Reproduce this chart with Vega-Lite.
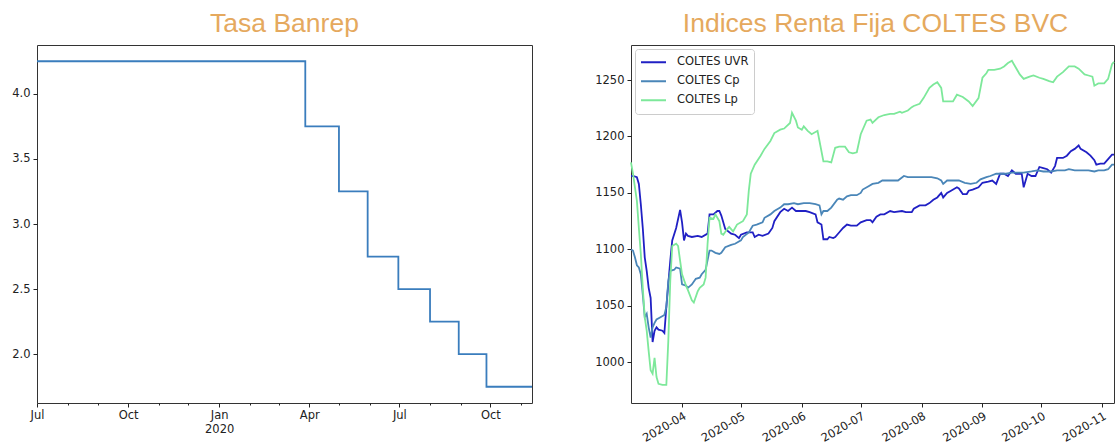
{
  "$schema": "https://vega.github.io/schema/vega-lite/v6.json",
  "padding": {"left": 0, "top": 10, "right": 0, "bottom": 0},
  "spacing": 53,
  "resolve": {"legend": {"color": "independent"}},
  "config": {
    "view": {"stroke": "#333333", "strokeWidth": 1},
    "font": "DejaVu Sans",
    "axis": {"domain": false, "grid": false, "labelFont": "DejaVu Sans", "labelFontSize": 11.5, "labelColor": "#222222", "tickColor": "#222222", "tickSize": 4, "tickWidth": 1, "labelPadding": 3, "title": null},
    "title": {"font": "Liberation Sans", "fontSize": 26.5, "color": "#e5a95e", "fontWeight": "normal", "anchor": "middle", "baseline": "alphabetic", "offset": 8}
  },
  "datasets": {
    "banrep": [
      {"fecha": "2019-07-01", "tasa": 4.25},
      {"fecha": "2020-03-28", "tasa": 3.75},
      {"fecha": "2020-05-01", "tasa": 3.25},
      {"fecha": "2020-05-30", "tasa": 2.75},
      {"fecha": "2020-06-30", "tasa": 2.5},
      {"fecha": "2020-08-01", "tasa": 2.25},
      {"fecha": "2020-08-30", "tasa": 2.0},
      {"fecha": "2020-09-27", "tasa": 1.75},
      {"fecha": "2020-11-12", "tasa": 1.75}
    ],
    "coltes": [
      {"fecha": "2020-03-06", "serie": "COLTES UVR", "valor": 1165},
      {"fecha": "2020-03-07", "serie": "COLTES UVR", "valor": 1165},
      {"fecha": "2020-03-09", "serie": "COLTES UVR", "valor": 1164},
      {"fecha": "2020-03-10", "serie": "COLTES UVR", "valor": 1158},
      {"fecha": "2020-03-11", "serie": "COLTES UVR", "valor": 1140},
      {"fecha": "2020-03-12", "serie": "COLTES UVR", "valor": 1119},
      {"fecha": "2020-03-13", "serie": "COLTES UVR", "valor": 1093},
      {"fecha": "2020-03-14", "serie": "COLTES UVR", "valor": 1081},
      {"fecha": "2020-03-15", "serie": "COLTES UVR", "valor": 1066},
      {"fecha": "2020-03-16", "serie": "COLTES UVR", "valor": 1057},
      {"fecha": "2020-03-17", "serie": "COLTES UVR", "valor": 1018},
      {"fecha": "2020-03-18", "serie": "COLTES UVR", "valor": 1028},
      {"fecha": "2020-03-19", "serie": "COLTES UVR", "valor": 1031},
      {"fecha": "2020-03-20", "serie": "COLTES UVR", "valor": 1029},
      {"fecha": "2020-03-22", "serie": "COLTES UVR", "valor": 1028},
      {"fecha": "2020-03-23", "serie": "COLTES UVR", "valor": 1026},
      {"fecha": "2020-03-24", "serie": "COLTES UVR", "valor": 1049},
      {"fecha": "2020-03-26", "serie": "COLTES UVR", "valor": 1090},
      {"fecha": "2020-03-27", "serie": "COLTES UVR", "valor": 1108},
      {"fecha": "2020-03-29", "serie": "COLTES UVR", "valor": 1119},
      {"fecha": "2020-03-31", "serie": "COLTES UVR", "valor": 1135},
      {"fecha": "2020-04-01", "serie": "COLTES UVR", "valor": 1124},
      {"fecha": "2020-04-02", "serie": "COLTES UVR", "valor": 1108},
      {"fecha": "2020-04-03", "serie": "COLTES UVR", "valor": 1114},
      {"fecha": "2020-04-04", "serie": "COLTES UVR", "valor": 1112},
      {"fecha": "2020-04-06", "serie": "COLTES UVR", "valor": 1111},
      {"fecha": "2020-04-09", "serie": "COLTES UVR", "valor": 1112},
      {"fecha": "2020-04-11", "serie": "COLTES UVR", "valor": 1111},
      {"fecha": "2020-04-14", "serie": "COLTES UVR", "valor": 1114},
      {"fecha": "2020-04-15", "serie": "COLTES UVR", "valor": 1131},
      {"fecha": "2020-04-17", "serie": "COLTES UVR", "valor": 1131},
      {"fecha": "2020-04-19", "serie": "COLTES UVR", "valor": 1134},
      {"fecha": "2020-04-20", "serie": "COLTES UVR", "valor": 1134},
      {"fecha": "2020-04-21", "serie": "COLTES UVR", "valor": 1130},
      {"fecha": "2020-04-23", "serie": "COLTES UVR", "valor": 1118},
      {"fecha": "2020-04-26", "serie": "COLTES UVR", "valor": 1114},
      {"fecha": "2020-04-28", "serie": "COLTES UVR", "valor": 1113},
      {"fecha": "2020-04-30", "serie": "COLTES UVR", "valor": 1110},
      {"fecha": "2020-05-01", "serie": "COLTES UVR", "valor": 1113},
      {"fecha": "2020-05-04", "serie": "COLTES UVR", "valor": 1115},
      {"fecha": "2020-05-07", "serie": "COLTES UVR", "valor": 1115},
      {"fecha": "2020-05-08", "serie": "COLTES UVR", "valor": 1111},
      {"fecha": "2020-05-10", "serie": "COLTES UVR", "valor": 1113},
      {"fecha": "2020-05-12", "serie": "COLTES UVR", "valor": 1112},
      {"fecha": "2020-05-15", "serie": "COLTES UVR", "valor": 1114},
      {"fecha": "2020-05-17", "serie": "COLTES UVR", "valor": 1119},
      {"fecha": "2020-05-18", "serie": "COLTES UVR", "valor": 1125},
      {"fecha": "2020-05-21", "serie": "COLTES UVR", "valor": 1133},
      {"fecha": "2020-05-23", "serie": "COLTES UVR", "valor": 1136},
      {"fecha": "2020-05-25", "serie": "COLTES UVR", "valor": 1134},
      {"fecha": "2020-05-27", "serie": "COLTES UVR", "valor": 1137},
      {"fecha": "2020-05-29", "serie": "COLTES UVR", "valor": 1134},
      {"fecha": "2020-06-01", "serie": "COLTES UVR", "valor": 1134},
      {"fecha": "2020-06-03", "serie": "COLTES UVR", "valor": 1134},
      {"fecha": "2020-06-05", "serie": "COLTES UVR", "valor": 1133},
      {"fecha": "2020-06-08", "serie": "COLTES UVR", "valor": 1131},
      {"fecha": "2020-06-09", "serie": "COLTES UVR", "valor": 1124},
      {"fecha": "2020-06-11", "serie": "COLTES UVR", "valor": 1122},
      {"fecha": "2020-06-12", "serie": "COLTES UVR", "valor": 1109},
      {"fecha": "2020-06-14", "serie": "COLTES UVR", "valor": 1109},
      {"fecha": "2020-06-15", "serie": "COLTES UVR", "valor": 1111},
      {"fecha": "2020-06-17", "serie": "COLTES UVR", "valor": 1110},
      {"fecha": "2020-06-18", "serie": "COLTES UVR", "valor": 1111},
      {"fecha": "2020-06-20", "serie": "COLTES UVR", "valor": 1115},
      {"fecha": "2020-06-22", "serie": "COLTES UVR", "valor": 1119},
      {"fecha": "2020-06-24", "serie": "COLTES UVR", "valor": 1122},
      {"fecha": "2020-06-26", "serie": "COLTES UVR", "valor": 1121},
      {"fecha": "2020-06-29", "serie": "COLTES UVR", "valor": 1121},
      {"fecha": "2020-07-01", "serie": "COLTES UVR", "valor": 1124},
      {"fecha": "2020-07-04", "serie": "COLTES UVR", "valor": 1126},
      {"fecha": "2020-07-06", "serie": "COLTES UVR", "valor": 1126},
      {"fecha": "2020-07-07", "serie": "COLTES UVR", "valor": 1124},
      {"fecha": "2020-07-09", "serie": "COLTES UVR", "valor": 1129},
      {"fecha": "2020-07-11", "serie": "COLTES UVR", "valor": 1131},
      {"fecha": "2020-07-13", "serie": "COLTES UVR", "valor": 1131},
      {"fecha": "2020-07-16", "serie": "COLTES UVR", "valor": 1134},
      {"fecha": "2020-07-18", "serie": "COLTES UVR", "valor": 1133},
      {"fecha": "2020-07-22", "serie": "COLTES UVR", "valor": 1134},
      {"fecha": "2020-07-24", "serie": "COLTES UVR", "valor": 1133},
      {"fecha": "2020-07-27", "serie": "COLTES UVR", "valor": 1133},
      {"fecha": "2020-07-28", "serie": "COLTES UVR", "valor": 1136},
      {"fecha": "2020-07-31", "serie": "COLTES UVR", "valor": 1139},
      {"fecha": "2020-08-03", "serie": "COLTES UVR", "valor": 1139},
      {"fecha": "2020-08-05", "serie": "COLTES UVR", "valor": 1141},
      {"fecha": "2020-08-07", "serie": "COLTES UVR", "valor": 1144},
      {"fecha": "2020-08-09", "serie": "COLTES UVR", "valor": 1146},
      {"fecha": "2020-08-11", "serie": "COLTES UVR", "valor": 1150},
      {"fecha": "2020-08-12", "serie": "COLTES UVR", "valor": 1146},
      {"fecha": "2020-08-14", "serie": "COLTES UVR", "valor": 1150},
      {"fecha": "2020-08-16", "serie": "COLTES UVR", "valor": 1152},
      {"fecha": "2020-08-19", "serie": "COLTES UVR", "valor": 1155},
      {"fecha": "2020-08-20", "serie": "COLTES UVR", "valor": 1154},
      {"fecha": "2020-08-22", "serie": "COLTES UVR", "valor": 1149},
      {"fecha": "2020-08-24", "serie": "COLTES UVR", "valor": 1149},
      {"fecha": "2020-08-25", "serie": "COLTES UVR", "valor": 1152},
      {"fecha": "2020-08-27", "serie": "COLTES UVR", "valor": 1153},
      {"fecha": "2020-08-30", "serie": "COLTES UVR", "valor": 1155},
      {"fecha": "2020-09-01", "serie": "COLTES UVR", "valor": 1159},
      {"fecha": "2020-09-04", "serie": "COLTES UVR", "valor": 1160},
      {"fecha": "2020-09-06", "serie": "COLTES UVR", "valor": 1161},
      {"fecha": "2020-09-08", "serie": "COLTES UVR", "valor": 1158},
      {"fecha": "2020-09-10", "serie": "COLTES UVR", "valor": 1167},
      {"fecha": "2020-09-12", "serie": "COLTES UVR", "valor": 1167},
      {"fecha": "2020-09-14", "serie": "COLTES UVR", "valor": 1165},
      {"fecha": "2020-09-16", "serie": "COLTES UVR", "valor": 1170},
      {"fecha": "2020-09-18", "serie": "COLTES UVR", "valor": 1167},
      {"fecha": "2020-09-21", "serie": "COLTES UVR", "valor": 1167},
      {"fecha": "2020-09-22", "serie": "COLTES UVR", "valor": 1155},
      {"fecha": "2020-09-24", "serie": "COLTES UVR", "valor": 1167},
      {"fecha": "2020-09-26", "serie": "COLTES UVR", "valor": 1165},
      {"fecha": "2020-09-28", "serie": "COLTES UVR", "valor": 1165},
      {"fecha": "2020-09-30", "serie": "COLTES UVR", "valor": 1173},
      {"fecha": "2020-10-02", "serie": "COLTES UVR", "valor": 1172},
      {"fecha": "2020-10-04", "serie": "COLTES UVR", "valor": 1171},
      {"fecha": "2020-10-06", "serie": "COLTES UVR", "valor": 1168},
      {"fecha": "2020-10-08", "serie": "COLTES UVR", "valor": 1174},
      {"fecha": "2020-10-09", "serie": "COLTES UVR", "valor": 1181},
      {"fecha": "2020-10-12", "serie": "COLTES UVR", "valor": 1181},
      {"fecha": "2020-10-14", "serie": "COLTES UVR", "valor": 1183},
      {"fecha": "2020-10-16", "serie": "COLTES UVR", "valor": 1187},
      {"fecha": "2020-10-18", "serie": "COLTES UVR", "valor": 1189},
      {"fecha": "2020-10-20", "serie": "COLTES UVR", "valor": 1192},
      {"fecha": "2020-10-21", "serie": "COLTES UVR", "valor": 1189},
      {"fecha": "2020-10-24", "serie": "COLTES UVR", "valor": 1186},
      {"fecha": "2020-10-26", "serie": "COLTES UVR", "valor": 1183},
      {"fecha": "2020-10-28", "serie": "COLTES UVR", "valor": 1179},
      {"fecha": "2020-10-29", "serie": "COLTES UVR", "valor": 1175},
      {"fecha": "2020-10-31", "serie": "COLTES UVR", "valor": 1176},
      {"fecha": "2020-11-02", "serie": "COLTES UVR", "valor": 1176},
      {"fecha": "2020-11-04", "serie": "COLTES UVR", "valor": 1180},
      {"fecha": "2020-11-06", "serie": "COLTES UVR", "valor": 1184},
      {"fecha": "2020-11-07", "serie": "COLTES UVR", "valor": 1184},

      {"fecha": "2020-03-06", "serie": "COLTES Cp", "valor": 1100},
      {"fecha": "2020-03-07", "serie": "COLTES Cp", "valor": 1099},
      {"fecha": "2020-03-08", "serie": "COLTES Cp", "valor": 1093},
      {"fecha": "2020-03-09", "serie": "COLTES Cp", "valor": 1086},
      {"fecha": "2020-03-10", "serie": "COLTES Cp", "valor": 1084},
      {"fecha": "2020-03-11", "serie": "COLTES Cp", "valor": 1078},
      {"fecha": "2020-03-12", "serie": "COLTES Cp", "valor": 1060},
      {"fecha": "2020-03-13", "serie": "COLTES Cp", "valor": 1040},
      {"fecha": "2020-03-14", "serie": "COLTES Cp", "valor": 1043},
      {"fecha": "2020-03-15", "serie": "COLTES Cp", "valor": 1031},
      {"fecha": "2020-03-16", "serie": "COLTES Cp", "valor": 1022},
      {"fecha": "2020-03-17", "serie": "COLTES Cp", "valor": 1031},
      {"fecha": "2020-03-18", "serie": "COLTES Cp", "valor": 1035},
      {"fecha": "2020-03-19", "serie": "COLTES Cp", "valor": 1038},
      {"fecha": "2020-03-21", "serie": "COLTES Cp", "valor": 1040},
      {"fecha": "2020-03-23", "serie": "COLTES Cp", "valor": 1042},
      {"fecha": "2020-03-24", "serie": "COLTES Cp", "valor": 1049},
      {"fecha": "2020-03-25", "serie": "COLTES Cp", "valor": 1072},
      {"fecha": "2020-03-26", "serie": "COLTES Cp", "valor": 1081},
      {"fecha": "2020-03-28", "serie": "COLTES Cp", "valor": 1082},
      {"fecha": "2020-03-29", "serie": "COLTES Cp", "valor": 1084},
      {"fecha": "2020-03-31", "serie": "COLTES Cp", "valor": 1083},
      {"fecha": "2020-04-01", "serie": "COLTES Cp", "valor": 1069},
      {"fecha": "2020-04-03", "serie": "COLTES Cp", "valor": 1068},
      {"fecha": "2020-04-04", "serie": "COLTES Cp", "valor": 1066},
      {"fecha": "2020-04-06", "serie": "COLTES Cp", "valor": 1069},
      {"fecha": "2020-04-08", "serie": "COLTES Cp", "valor": 1074},
      {"fecha": "2020-04-10", "serie": "COLTES Cp", "valor": 1075},
      {"fecha": "2020-04-11", "serie": "COLTES Cp", "valor": 1078},
      {"fecha": "2020-04-13", "serie": "COLTES Cp", "valor": 1082},
      {"fecha": "2020-04-15", "serie": "COLTES Cp", "valor": 1099},
      {"fecha": "2020-04-16", "serie": "COLTES Cp", "valor": 1099},
      {"fecha": "2020-04-18", "serie": "COLTES Cp", "valor": 1097},
      {"fecha": "2020-04-20", "serie": "COLTES Cp", "valor": 1096},
      {"fecha": "2020-04-21", "serie": "COLTES Cp", "valor": 1097},
      {"fecha": "2020-04-23", "serie": "COLTES Cp", "valor": 1102},
      {"fecha": "2020-04-26", "serie": "COLTES Cp", "valor": 1104},
      {"fecha": "2020-04-28", "serie": "COLTES Cp", "valor": 1105},
      {"fecha": "2020-05-01", "serie": "COLTES Cp", "valor": 1108},
      {"fecha": "2020-05-02", "serie": "COLTES Cp", "valor": 1111},
      {"fecha": "2020-05-05", "serie": "COLTES Cp", "valor": 1115},
      {"fecha": "2020-05-07", "serie": "COLTES Cp", "valor": 1121},
      {"fecha": "2020-05-09", "serie": "COLTES Cp", "valor": 1122},
      {"fecha": "2020-05-12", "serie": "COLTES Cp", "valor": 1124},
      {"fecha": "2020-05-13", "serie": "COLTES Cp", "valor": 1128},
      {"fecha": "2020-05-16", "serie": "COLTES Cp", "valor": 1131},
      {"fecha": "2020-05-18", "serie": "COLTES Cp", "valor": 1134},
      {"fecha": "2020-05-21", "serie": "COLTES Cp", "valor": 1137},
      {"fecha": "2020-05-23", "serie": "COLTES Cp", "valor": 1140},
      {"fecha": "2020-05-25", "serie": "COLTES Cp", "valor": 1140},
      {"fecha": "2020-05-28", "serie": "COLTES Cp", "valor": 1141},
      {"fecha": "2020-05-30", "serie": "COLTES Cp", "valor": 1140},
      {"fecha": "2020-06-02", "serie": "COLTES Cp", "valor": 1141},
      {"fecha": "2020-06-05", "serie": "COLTES Cp", "valor": 1141},
      {"fecha": "2020-06-08", "serie": "COLTES Cp", "valor": 1140},
      {"fecha": "2020-06-10", "serie": "COLTES Cp", "valor": 1139},
      {"fecha": "2020-06-11", "serie": "COLTES Cp", "valor": 1131},
      {"fecha": "2020-06-12", "serie": "COLTES Cp", "valor": 1134},
      {"fecha": "2020-06-14", "serie": "COLTES Cp", "valor": 1134},
      {"fecha": "2020-06-16", "serie": "COLTES Cp", "valor": 1137},
      {"fecha": "2020-06-19", "serie": "COLTES Cp", "valor": 1144},
      {"fecha": "2020-06-20", "serie": "COLTES Cp", "valor": 1145},
      {"fecha": "2020-06-22", "serie": "COLTES Cp", "valor": 1144},
      {"fecha": "2020-06-24", "serie": "COLTES Cp", "valor": 1147},
      {"fecha": "2020-06-26", "serie": "COLTES Cp", "valor": 1148},
      {"fecha": "2020-06-29", "serie": "COLTES Cp", "valor": 1148},
      {"fecha": "2020-07-01", "serie": "COLTES Cp", "valor": 1150},
      {"fecha": "2020-07-02", "serie": "COLTES Cp", "valor": 1153},
      {"fecha": "2020-07-05", "serie": "COLTES Cp", "valor": 1156},
      {"fecha": "2020-07-07", "serie": "COLTES Cp", "valor": 1158},
      {"fecha": "2020-07-10", "serie": "COLTES Cp", "valor": 1159},
      {"fecha": "2020-07-12", "serie": "COLTES Cp", "valor": 1161},
      {"fecha": "2020-07-15", "serie": "COLTES Cp", "valor": 1161},
      {"fecha": "2020-07-17", "serie": "COLTES Cp", "valor": 1161},
      {"fecha": "2020-07-20", "serie": "COLTES Cp", "valor": 1161},
      {"fecha": "2020-07-23", "serie": "COLTES Cp", "valor": 1165},
      {"fecha": "2020-07-25", "serie": "COLTES Cp", "valor": 1164},
      {"fecha": "2020-07-27", "serie": "COLTES Cp", "valor": 1164},
      {"fecha": "2020-07-30", "serie": "COLTES Cp", "valor": 1164},
      {"fecha": "2020-08-03", "serie": "COLTES Cp", "valor": 1164},
      {"fecha": "2020-08-06", "serie": "COLTES Cp", "valor": 1164},
      {"fecha": "2020-08-09", "serie": "COLTES Cp", "valor": 1163},
      {"fecha": "2020-08-11", "serie": "COLTES Cp", "valor": 1161},
      {"fecha": "2020-08-12", "serie": "COLTES Cp", "valor": 1158},
      {"fecha": "2020-08-14", "serie": "COLTES Cp", "valor": 1161},
      {"fecha": "2020-08-17", "serie": "COLTES Cp", "valor": 1161},
      {"fecha": "2020-08-20", "serie": "COLTES Cp", "valor": 1161},
      {"fecha": "2020-08-23", "serie": "COLTES Cp", "valor": 1159},
      {"fecha": "2020-08-26", "serie": "COLTES Cp", "valor": 1158},
      {"fecha": "2020-08-29", "serie": "COLTES Cp", "valor": 1159},
      {"fecha": "2020-08-31", "serie": "COLTES Cp", "valor": 1162},
      {"fecha": "2020-09-03", "serie": "COLTES Cp", "valor": 1164},
      {"fecha": "2020-09-05", "serie": "COLTES Cp", "valor": 1165},
      {"fecha": "2020-09-08", "serie": "COLTES Cp", "valor": 1167},
      {"fecha": "2020-09-10", "serie": "COLTES Cp", "valor": 1167},
      {"fecha": "2020-09-13", "serie": "COLTES Cp", "valor": 1167},
      {"fecha": "2020-09-16", "serie": "COLTES Cp", "valor": 1168},
      {"fecha": "2020-09-19", "serie": "COLTES Cp", "valor": 1168},
      {"fecha": "2020-09-22", "serie": "COLTES Cp", "valor": 1168},
      {"fecha": "2020-09-26", "serie": "COLTES Cp", "valor": 1169},
      {"fecha": "2020-09-29", "serie": "COLTES Cp", "valor": 1170},
      {"fecha": "2020-10-02", "serie": "COLTES Cp", "valor": 1169},
      {"fecha": "2020-10-06", "serie": "COLTES Cp", "valor": 1169},
      {"fecha": "2020-10-09", "serie": "COLTES Cp", "valor": 1170},
      {"fecha": "2020-10-13", "serie": "COLTES Cp", "valor": 1170},
      {"fecha": "2020-10-15", "serie": "COLTES Cp", "valor": 1171},
      {"fecha": "2020-10-18", "serie": "COLTES Cp", "valor": 1170},
      {"fecha": "2020-10-22", "serie": "COLTES Cp", "valor": 1170},
      {"fecha": "2020-10-25", "serie": "COLTES Cp", "valor": 1170},
      {"fecha": "2020-10-28", "serie": "COLTES Cp", "valor": 1169},
      {"fecha": "2020-10-30", "serie": "COLTES Cp", "valor": 1170},
      {"fecha": "2020-11-02", "serie": "COLTES Cp", "valor": 1170},
      {"fecha": "2020-11-04", "serie": "COLTES Cp", "valor": 1171},
      {"fecha": "2020-11-06", "serie": "COLTES Cp", "valor": 1175},
      {"fecha": "2020-11-07", "serie": "COLTES Cp", "valor": 1175},

      {"fecha": "2020-03-06", "serie": "COLTES Lp", "valor": 1177},
      {"fecha": "2020-03-07", "serie": "COLTES Lp", "valor": 1167},
      {"fecha": "2020-03-09", "serie": "COLTES Lp", "valor": 1143},
      {"fecha": "2020-03-10", "serie": "COLTES Lp", "valor": 1119},
      {"fecha": "2020-03-11", "serie": "COLTES Lp", "valor": 1096},
      {"fecha": "2020-03-12", "serie": "COLTES Lp", "valor": 1066},
      {"fecha": "2020-03-13", "serie": "COLTES Lp", "valor": 1040},
      {"fecha": "2020-03-14", "serie": "COLTES Lp", "valor": 1028},
      {"fecha": "2020-03-15", "serie": "COLTES Lp", "valor": 1010},
      {"fecha": "2020-03-16", "serie": "COLTES Lp", "valor": 993},
      {"fecha": "2020-03-17", "serie": "COLTES Lp", "valor": 990},
      {"fecha": "2020-03-18", "serie": "COLTES Lp", "valor": 1004},
      {"fecha": "2020-03-19", "serie": "COLTES Lp", "valor": 987},
      {"fecha": "2020-03-20", "serie": "COLTES Lp", "valor": 981},
      {"fecha": "2020-03-22", "serie": "COLTES Lp", "valor": 980},
      {"fecha": "2020-03-24", "serie": "COLTES Lp", "valor": 980},
      {"fecha": "2020-03-25", "serie": "COLTES Lp", "valor": 1019},
      {"fecha": "2020-03-26", "serie": "COLTES Lp", "valor": 1072},
      {"fecha": "2020-03-27", "serie": "COLTES Lp", "valor": 1103},
      {"fecha": "2020-03-29", "serie": "COLTES Lp", "valor": 1105},
      {"fecha": "2020-03-30", "serie": "COLTES Lp", "valor": 1103},
      {"fecha": "2020-03-31", "serie": "COLTES Lp", "valor": 1090},
      {"fecha": "2020-04-01", "serie": "COLTES Lp", "valor": 1078},
      {"fecha": "2020-04-03", "serie": "COLTES Lp", "valor": 1068},
      {"fecha": "2020-04-04", "serie": "COLTES Lp", "valor": 1064},
      {"fecha": "2020-04-06", "serie": "COLTES Lp", "valor": 1055},
      {"fecha": "2020-04-07", "serie": "COLTES Lp", "valor": 1053},
      {"fecha": "2020-04-09", "serie": "COLTES Lp", "valor": 1063},
      {"fecha": "2020-04-10", "serie": "COLTES Lp", "valor": 1066},
      {"fecha": "2020-04-12", "serie": "COLTES Lp", "valor": 1069},
      {"fecha": "2020-04-13", "serie": "COLTES Lp", "valor": 1075},
      {"fecha": "2020-04-14", "serie": "COLTES Lp", "valor": 1105},
      {"fecha": "2020-04-15", "serie": "COLTES Lp", "valor": 1128},
      {"fecha": "2020-04-17", "serie": "COLTES Lp", "valor": 1127},
      {"fecha": "2020-04-18", "serie": "COLTES Lp", "valor": 1131},
      {"fecha": "2020-04-20", "serie": "COLTES Lp", "valor": 1125},
      {"fecha": "2020-04-21", "serie": "COLTES Lp", "valor": 1114},
      {"fecha": "2020-04-22", "serie": "COLTES Lp", "valor": 1113},
      {"fecha": "2020-04-24", "serie": "COLTES Lp", "valor": 1118},
      {"fecha": "2020-04-25", "serie": "COLTES Lp", "valor": 1120},
      {"fecha": "2020-04-27", "serie": "COLTES Lp", "valor": 1116},
      {"fecha": "2020-04-29", "serie": "COLTES Lp", "valor": 1122},
      {"fecha": "2020-05-01", "serie": "COLTES Lp", "valor": 1124},
      {"fecha": "2020-05-02", "serie": "COLTES Lp", "valor": 1125},
      {"fecha": "2020-05-04", "serie": "COLTES Lp", "valor": 1131},
      {"fecha": "2020-05-05", "serie": "COLTES Lp", "valor": 1152},
      {"fecha": "2020-05-06", "serie": "COLTES Lp", "valor": 1167},
      {"fecha": "2020-05-08", "serie": "COLTES Lp", "valor": 1175},
      {"fecha": "2020-05-11", "serie": "COLTES Lp", "valor": 1183},
      {"fecha": "2020-05-13", "serie": "COLTES Lp", "valor": 1189},
      {"fecha": "2020-05-16", "serie": "COLTES Lp", "valor": 1196},
      {"fecha": "2020-05-18", "serie": "COLTES Lp", "valor": 1203},
      {"fecha": "2020-05-21", "serie": "COLTES Lp", "valor": 1206},
      {"fecha": "2020-05-23", "serie": "COLTES Lp", "valor": 1207},
      {"fecha": "2020-05-26", "serie": "COLTES Lp", "valor": 1212},
      {"fecha": "2020-05-27", "serie": "COLTES Lp", "valor": 1221},
      {"fecha": "2020-05-29", "serie": "COLTES Lp", "valor": 1214},
      {"fecha": "2020-05-30", "serie": "COLTES Lp", "valor": 1208},
      {"fecha": "2020-06-01", "serie": "COLTES Lp", "valor": 1206},
      {"fecha": "2020-06-02", "serie": "COLTES Lp", "valor": 1209},
      {"fecha": "2020-06-04", "serie": "COLTES Lp", "valor": 1205},
      {"fecha": "2020-06-06", "serie": "COLTES Lp", "valor": 1202},
      {"fecha": "2020-06-09", "serie": "COLTES Lp", "valor": 1205},
      {"fecha": "2020-06-10", "serie": "COLTES Lp", "valor": 1196},
      {"fecha": "2020-06-12", "serie": "COLTES Lp", "valor": 1178},
      {"fecha": "2020-06-14", "serie": "COLTES Lp", "valor": 1178},
      {"fecha": "2020-06-16", "serie": "COLTES Lp", "valor": 1177},
      {"fecha": "2020-06-18", "serie": "COLTES Lp", "valor": 1190},
      {"fecha": "2020-06-20", "serie": "COLTES Lp", "valor": 1191},
      {"fecha": "2020-06-23", "serie": "COLTES Lp", "valor": 1191},
      {"fecha": "2020-06-25", "serie": "COLTES Lp", "valor": 1186},
      {"fecha": "2020-06-27", "serie": "COLTES Lp", "valor": 1185},
      {"fecha": "2020-06-29", "serie": "COLTES Lp", "valor": 1186},
      {"fecha": "2020-07-01", "serie": "COLTES Lp", "valor": 1202},
      {"fecha": "2020-07-04", "serie": "COLTES Lp", "valor": 1214},
      {"fecha": "2020-07-06", "serie": "COLTES Lp", "valor": 1215},
      {"fecha": "2020-07-07", "serie": "COLTES Lp", "valor": 1212},
      {"fecha": "2020-07-10", "serie": "COLTES Lp", "valor": 1217},
      {"fecha": "2020-07-13", "serie": "COLTES Lp", "valor": 1219},
      {"fecha": "2020-07-16", "serie": "COLTES Lp", "valor": 1220},
      {"fecha": "2020-07-18", "serie": "COLTES Lp", "valor": 1220},
      {"fecha": "2020-07-21", "serie": "COLTES Lp", "valor": 1222},
      {"fecha": "2020-07-22", "serie": "COLTES Lp", "valor": 1221},
      {"fecha": "2020-07-25", "serie": "COLTES Lp", "valor": 1223},
      {"fecha": "2020-07-27", "serie": "COLTES Lp", "valor": 1226},
      {"fecha": "2020-07-28", "serie": "COLTES Lp", "valor": 1227},
      {"fecha": "2020-07-31", "serie": "COLTES Lp", "valor": 1229},
      {"fecha": "2020-08-02", "serie": "COLTES Lp", "valor": 1234},
      {"fecha": "2020-08-05", "serie": "COLTES Lp", "valor": 1243},
      {"fecha": "2020-08-07", "serie": "COLTES Lp", "valor": 1246},
      {"fecha": "2020-08-09", "serie": "COLTES Lp", "valor": 1248},
      {"fecha": "2020-08-11", "serie": "COLTES Lp", "valor": 1243},
      {"fecha": "2020-08-12", "serie": "COLTES Lp", "valor": 1231},
      {"fecha": "2020-08-14", "serie": "COLTES Lp", "valor": 1231},
      {"fecha": "2020-08-17", "serie": "COLTES Lp", "valor": 1231},
      {"fecha": "2020-08-19", "serie": "COLTES Lp", "valor": 1237},
      {"fecha": "2020-08-22", "serie": "COLTES Lp", "valor": 1235},
      {"fecha": "2020-08-25", "serie": "COLTES Lp", "valor": 1231},
      {"fecha": "2020-08-27", "serie": "COLTES Lp", "valor": 1227},
      {"fecha": "2020-08-30", "serie": "COLTES Lp", "valor": 1234},
      {"fecha": "2020-09-01", "serie": "COLTES Lp", "valor": 1252},
      {"fecha": "2020-09-03", "serie": "COLTES Lp", "valor": 1256},
      {"fecha": "2020-09-04", "serie": "COLTES Lp", "valor": 1259},
      {"fecha": "2020-09-07", "serie": "COLTES Lp", "valor": 1259},
      {"fecha": "2020-09-10", "serie": "COLTES Lp", "valor": 1260},
      {"fecha": "2020-09-12", "serie": "COLTES Lp", "valor": 1262},
      {"fecha": "2020-09-14", "serie": "COLTES Lp", "valor": 1265},
      {"fecha": "2020-09-16", "serie": "COLTES Lp", "valor": 1267},
      {"fecha": "2020-09-17", "serie": "COLTES Lp", "valor": 1264},
      {"fecha": "2020-09-20", "serie": "COLTES Lp", "valor": 1255},
      {"fecha": "2020-09-22", "serie": "COLTES Lp", "valor": 1251},
      {"fecha": "2020-09-25", "serie": "COLTES Lp", "valor": 1253},
      {"fecha": "2020-09-27", "serie": "COLTES Lp", "valor": 1254},
      {"fecha": "2020-09-30", "serie": "COLTES Lp", "valor": 1252},
      {"fecha": "2020-10-02", "serie": "COLTES Lp", "valor": 1251},
      {"fecha": "2020-10-05", "serie": "COLTES Lp", "valor": 1249},
      {"fecha": "2020-10-07", "serie": "COLTES Lp", "valor": 1248},
      {"fecha": "2020-10-09", "serie": "COLTES Lp", "valor": 1253},
      {"fecha": "2020-10-12", "serie": "COLTES Lp", "valor": 1257},
      {"fecha": "2020-10-15", "serie": "COLTES Lp", "valor": 1262},
      {"fecha": "2020-10-18", "serie": "COLTES Lp", "valor": 1262},
      {"fecha": "2020-10-20", "serie": "COLTES Lp", "valor": 1260},
      {"fecha": "2020-10-23", "serie": "COLTES Lp", "valor": 1255},
      {"fecha": "2020-10-25", "serie": "COLTES Lp", "valor": 1254},
      {"fecha": "2020-10-27", "serie": "COLTES Lp", "valor": 1253},
      {"fecha": "2020-10-28", "serie": "COLTES Lp", "valor": 1245},
      {"fecha": "2020-10-30", "serie": "COLTES Lp", "valor": 1247},
      {"fecha": "2020-11-02", "serie": "COLTES Lp", "valor": 1247},
      {"fecha": "2020-11-04", "serie": "COLTES Lp", "valor": 1251},
      {"fecha": "2020-11-06", "serie": "COLTES Lp", "valor": 1264},
      {"fecha": "2020-11-07", "serie": "COLTES Lp", "valor": 1266}
    ]
  },
  "hconcat": [
    {
      "title": {"text": "Tasa Banrep"},
      "width": 495,
      "height": 358,
      "data": {"name": "banrep"},
      "mark": {"type": "line", "interpolate": "step-after", "color": "#3a7dbd", "strokeWidth": 1.8},
      "encoding": {
        "x": {
          "field": "fecha", "type": "temporal",
          "scale": {"type": "utc", "domain": [{"year": 2019, "month": 7, "date": 1, "utc": true}, {"year": 2020, "month": 11, "date": 12, "utc": true}]},
          "axis": {
            "tickCount": {"interval": "month", "step": 1},
            "labelExpr": "utcmonth(datum.value) == 0 ? ['Jan', utcFormat(datum.value, '%Y')] : (utcmonth(datum.value) % 3 == 0 ? utcFormat(datum.value, '%b') : '')",
            "tickSize": {"condition": {"test": "utcmonth(datum.value) % 3 == 0", "value": 4}, "value": 2},
            "labelFlush": false,
            "labelOverlap": false,
            "labelBound": false,
            "labelLineHeight": 14,
            "labelPadding": 2
          }
        },
        "y": {
          "field": "tasa", "type": "quantitative",
          "scale": {"domain": [1.625, 4.375], "nice": false, "zero": false},
          "axis": {"values": [2, 2.5, 3, 3.5, 4], "format": ".1f", "minExtent": 36, "maxExtent": 36}
        }
      }
    },
    {
      "title": {"text": "Indices Renta Fija COLTES BVC", "dx": 3},
      "width": 483,
      "height": 358,
      "data": {"name": "coltes"},
      "mark": {"type": "line", "strokeWidth": 1.8},
      "encoding": {
        "x": {
          "field": "fecha", "type": "temporal",
          "scale": {"type": "utc", "domain": [{"year": 2020, "month": 3, "date": 6, "utc": true}, {"year": 2020, "month": 11, "date": 7, "utc": true}]},
          "axis": {
            "tickCount": {"interval": "month", "step": 1},
            "format": "%Y-%m",
            "labelAngle": -30,
            "labelAlign": "right",
            "labelBaseline": "top",
            "labelFlush": false,
            "labelOverlap": false,
            "labelBound": false,
            "tickSize": 4
          }
        },
        "y": {
          "field": "valor", "type": "quantitative",
          "scale": {"domain": [964, 1281], "nice": false, "zero": false},
          "axis": {"values": [1000, 1050, 1100, 1150, 1200, 1250], "format": "d", "minExtent": 40, "maxExtent": 40}
        },
        "color": {
          "field": "serie", "type": "nominal",
          "scale": {"domain": ["COLTES UVR", "COLTES Cp", "COLTES Lp"], "range": ["#2020c4", "#4a86b8", "#7de89a"]},
          "legend": {
            "title": null,
            "orient": "top-left",
            "offset": 4,
            "symbolType": "stroke",
            "symbolSize": 625,
            "symbolStrokeWidth": 1.8,
            "labelFont": "DejaVu Sans",
            "labelFontSize": 11.5,
            "labelColor": "#222222",
            "labelOffset": 10,
            "padding": 5,
            "strokeColor": "#cccccc",
            "fillColor": "rgba(255,255,255,0.85)",
            "cornerRadius": 3,
            "clipHeight": 16.5,
            "rowPadding": 2
          }
        }
      }
    }
  ]
}
